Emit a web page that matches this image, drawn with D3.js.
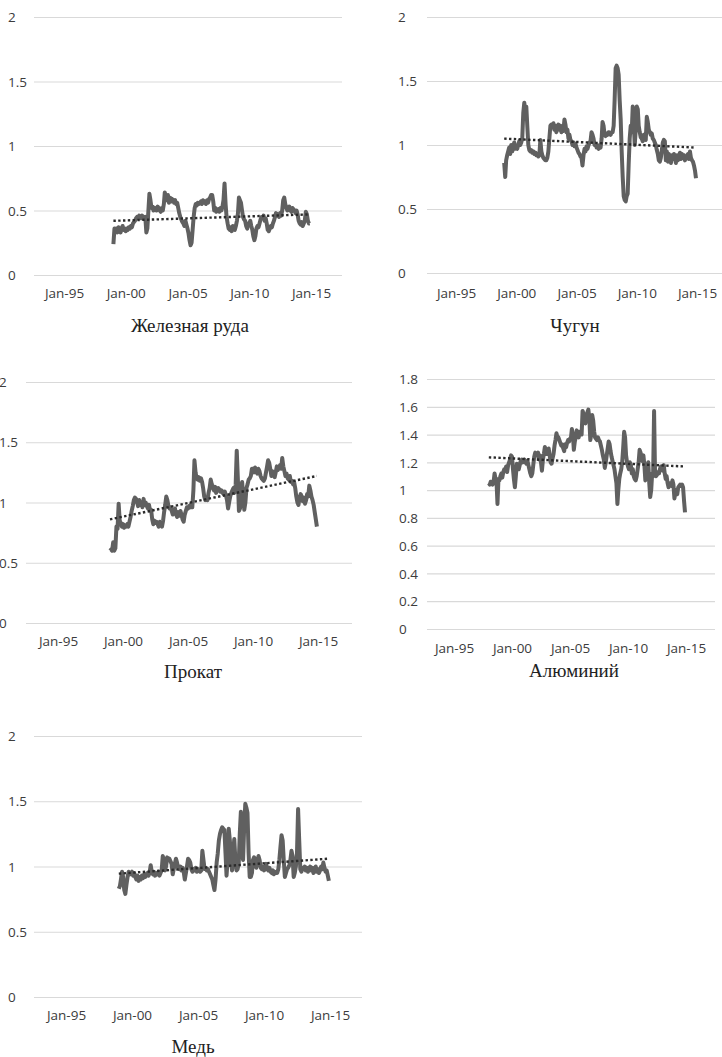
<!DOCTYPE html>
<html>
<head>
<meta charset="utf-8">
<script src="https://cdnjs.cloudflare.com/ajax/libs/d3/7.8.5/d3.min.js"></script>
<style>
  body { margin: 0; background: #fff; }
  svg { display: block; }
  .tick line { stroke: #d9d9d9; stroke-width: 1.2; }
  .tick text { font-family: "Open Sans", sans-serif; font-size: 13.5px; fill: #3c3c3c; }
  .title { font-family: "Liberation Serif", serif; font-size: 19px; fill: #222; }
</style>
</head>
<body>
<svg id="chart" width="722" height="1057"></svg>
<script>
// titles of the five panels
const titles = ["Железная руда", "Чугун", "Прокат", "Алюминий", "Медь"];

// x axis tick years (labels Jan-95 ... Jan-15)
const tickYears = [1995, 2000, 2005, 2010, 2015];

// y tick values
const ticksTo2 = [0, 0.5, 1, 1.5, 2];
const ticksTo18 = [0, 0.2, 0.4, 0.6, 0.8, 1, 1.2, 1.4, 1.6, 1.8];

// first month of each series [year, month index]
const starts = [[1999, 0], [1999, 0], [1999, 0], [1998, 0], [1999, 0]];

// linear trend, value at first and last month
const trends = [[0.42, 0.47], [1.05, 0.98], [0.86, 1.22], [1.236, 1.17], [0.945, 1.06]];

// monthly values, one row per year
const ironOre = [
  0.24, 0.36, 0.34, 0.36, 0.33, 0.37, 0.35, 0.33, 0.36, 0.38, 0.35, 0.36,
  0.34, 0.36, 0.35, 0.37, 0.36, 0.38, 0.37, 0.40, 0.41, 0.42, 0.44, 0.45,
  0.44, 0.46, 0.45, 0.44, 0.46, 0.45, 0.44, 0.45, 0.33, 0.36, 0.50, 0.63,
  0.58, 0.52, 0.53, 0.50, 0.52, 0.51, 0.50, 0.53, 0.52, 0.50, 0.49, 0.52,
  0.50, 0.55, 0.64, 0.60, 0.58, 0.62, 0.56, 0.60, 0.57, 0.59, 0.58, 0.56,
  0.58, 0.55, 0.56, 0.52, 0.48, 0.45, 0.43, 0.41, 0.40, 0.38, 0.42, 0.39,
  0.36, 0.32, 0.27, 0.23, 0.25, 0.35, 0.45, 0.52, 0.55, 0.54, 0.56, 0.55,
  0.56, 0.57, 0.55, 0.58, 0.56, 0.57, 0.55, 0.58, 0.56, 0.59, 0.60, 0.62,
  0.62, 0.57, 0.50, 0.52, 0.49, 0.50, 0.51, 0.49, 0.52, 0.50, 0.53, 0.58,
  0.71, 0.55, 0.45, 0.40, 0.36, 0.35, 0.37, 0.34, 0.38, 0.36, 0.35, 0.38,
  0.42, 0.48, 0.60, 0.58, 0.56, 0.50, 0.45, 0.43, 0.42, 0.38, 0.36, 0.40,
  0.40, 0.42, 0.38, 0.35, 0.30, 0.27, 0.30, 0.36, 0.38, 0.37, 0.40, 0.43,
  0.45, 0.44, 0.46, 0.42, 0.44, 0.40, 0.35, 0.34, 0.36, 0.38, 0.37, 0.40,
  0.42, 0.45, 0.48, 0.46, 0.47, 0.45, 0.48, 0.46, 0.50, 0.58, 0.60, 0.55,
  0.52, 0.50, 0.51, 0.53, 0.50, 0.49, 0.52, 0.51, 0.50, 0.48, 0.50, 0.47,
  0.42, 0.40, 0.39, 0.41, 0.38, 0.40, 0.42, 0.49, 0.47, 0.42, 0.40, 0.40
];

const pigIron = [
  0.86, 0.75, 0.88, 0.92, 0.95, 0.98, 0.93, 1.00, 0.95, 0.98, 1.02, 0.97,
  0.99, 0.97, 1.00, 1.03, 1.00, 1.02, 1.05, 1.25, 1.33, 1.25, 1.30, 1.15,
  1.00, 0.96, 0.95, 0.96, 0.94, 0.95, 0.93, 0.94, 0.92, 0.93, 0.91, 0.92,
  1.04, 0.95, 0.92, 0.90, 0.89, 0.88, 0.88, 0.90, 0.95, 1.05, 1.15, 1.16,
  1.14, 1.17, 1.12, 1.15, 1.10, 1.14, 1.16, 1.12, 1.15, 1.10, 1.13, 1.11,
  1.20, 1.16, 1.10, 1.12, 1.05, 1.08, 1.04, 1.03, 1.00, 1.02, 0.99, 1.01,
  0.98, 0.96, 0.94, 0.93, 0.91, 0.90, 0.84, 0.92, 0.97, 0.95, 0.99, 0.97,
  1.00, 1.02, 1.03, 1.10, 1.08, 1.05, 1.00, 1.01, 0.98, 0.99, 0.97, 1.00,
  0.98, 1.05, 1.18, 1.15, 1.08, 1.07, 1.09, 1.08, 1.10, 1.09, 1.08, 1.10,
  1.10, 1.15, 1.35, 1.60, 1.62, 1.60, 1.55, 1.35, 1.20, 0.95, 0.75, 0.60,
  0.57, 0.56, 0.60, 0.62, 0.85, 1.05, 1.15, 1.10, 1.30, 1.18, 1.00, 1.12,
  1.30, 1.28, 1.15, 1.10, 1.06, 1.05, 1.03, 1.08, 1.05, 1.04, 1.22, 1.18,
  1.12, 1.10, 1.08, 1.09, 1.05, 1.04, 1.02, 1.00, 0.96, 0.93, 0.88, 0.87,
  0.90, 0.96, 1.02, 1.04, 1.03, 0.88, 0.95, 0.87, 0.93, 0.90, 0.86, 0.92,
  0.89, 0.93, 0.90, 0.86, 0.92, 0.88, 0.91, 0.94, 0.89, 0.93, 0.90, 0.92,
  0.88, 0.91, 0.90, 0.93, 0.89, 0.95, 0.90, 0.88, 0.87, 0.84, 0.80, 0.74
];

const rolledSteel = [
  0.60, 0.61, 0.60, 0.67, 0.60, 0.62, 0.80, 0.78, 0.99, 0.85, 0.83, 0.80,
  0.82, 0.79, 0.81, 0.80, 0.82, 0.80, 0.84, 0.88, 0.93, 0.97, 1.02, 1.04,
  1.03, 1.00, 0.97, 1.02, 0.98, 1.00, 0.96, 1.03, 0.98, 1.00, 0.97, 0.95,
  0.98, 0.93, 0.94, 0.86, 0.82, 0.85, 0.83, 0.84, 0.82, 0.80, 0.84, 0.83,
  0.80, 0.85, 0.92, 0.98, 1.05, 1.02, 0.97, 0.95, 0.96, 0.93, 0.90, 0.92,
  0.95, 0.90, 0.88, 0.92, 0.89, 0.93, 0.90, 0.86, 0.84, 0.90, 0.93, 0.96,
  0.95, 0.97, 0.96, 0.99, 0.96, 1.10, 1.35, 1.25, 1.20, 1.19, 1.21, 1.18,
  1.20, 1.17, 1.12, 1.05, 1.02, 1.04, 1.02, 1.08, 1.12, 1.19, 1.15, 1.12,
  1.10, 1.13, 1.08, 1.10, 1.12, 1.11, 1.09, 1.10, 1.08, 1.07, 1.09, 1.06,
  1.02, 0.95, 1.00, 1.05, 1.08, 1.10, 1.12, 1.08, 1.15, 1.43, 1.20, 0.93,
  0.95, 1.10, 1.17, 1.05, 0.94, 1.00, 1.12, 1.15, 1.19, 1.20, 1.22, 1.28,
  1.28, 1.25, 1.29, 1.27, 1.24, 1.28, 1.26, 1.22, 1.20, 1.19, 1.18, 1.20,
  1.25, 1.30, 1.35, 1.33, 1.28, 1.22, 1.26, 1.24, 1.21, 1.25, 1.30, 1.27,
  1.29, 1.31, 1.28, 1.37, 1.30, 1.26, 1.22, 1.24, 1.20, 1.19, 1.22, 1.17,
  1.18, 1.15, 1.17, 1.12, 1.05, 1.00, 0.98, 1.04, 1.07, 1.05, 1.01, 1.04,
  0.99, 1.02, 1.07, 1.05, 1.14, 1.10, 1.05, 1.02, 0.98, 0.92, 0.86, 0.80
];

const aluminium = [
  1.05, 1.04, 1.06, 1.05, 1.04, 1.06, 1.12, 1.08, 1.06, 0.90, 1.08, 1.07,
  1.10, 1.12, 1.09, 1.13, 1.15, 1.14, 1.17, 1.13, 1.18, 1.20, 1.22, 1.25,
  1.24, 1.15, 1.08, 1.02, 1.10, 1.19, 1.17, 1.15, 1.18, 1.21, 1.22, 1.20,
  1.21, 1.22, 1.20, 1.19, 1.21, 1.18, 1.15, 1.12, 1.10, 1.12, 1.18, 1.24,
  1.27, 1.25, 1.26, 1.27, 1.22, 1.25, 1.20, 1.14, 1.22, 1.26, 1.31, 1.28,
  1.26, 1.27, 1.30, 1.25, 1.20, 1.19, 1.23, 1.26, 1.32, 1.36, 1.41, 1.38,
  1.38, 1.36, 1.34, 1.32, 1.33, 1.30, 1.28, 1.33, 1.31, 1.34, 1.36, 1.35,
  1.37, 1.38, 1.44, 1.40, 1.29, 1.35, 1.38, 1.43, 1.40, 1.38, 1.42, 1.40,
  1.40, 1.57, 1.55, 1.50, 1.48, 1.52, 1.56, 1.58, 1.52, 1.36, 1.40, 1.54,
  1.50, 1.42, 1.38, 1.37, 1.36, 1.38, 1.36, 1.35, 1.32, 1.29, 1.25, 1.22,
  1.16, 1.20, 1.25, 1.30, 1.35, 1.33, 1.28, 1.24, 1.21, 1.18, 1.15, 1.10,
  1.05, 0.90, 1.00, 1.08, 1.12, 1.15, 1.20, 1.30, 1.42, 1.38, 1.25, 1.20,
  1.17, 1.15, 1.20, 1.18, 1.12, 1.15, 1.10, 1.08, 1.07, 1.10, 1.15, 1.20,
  1.29, 1.27, 1.24, 1.21, 1.25, 1.18, 1.07, 1.10, 1.15, 1.20, 1.05, 0.95,
  1.00, 1.12, 1.10, 1.57, 1.12, 1.10, 1.11, 1.13, 1.12, 1.15, 1.17, 1.16,
  1.14, 1.18, 1.12, 1.08, 1.10, 1.05, 1.02, 1.04, 1.05, 1.03, 1.07, 1.04,
  0.94, 0.98, 1.00, 0.97, 1.02, 1.03, 1.04, 1.03, 1.04, 1.02, 0.92, 0.84
];

const copper = [
  0.83, 0.85, 0.90, 0.96, 0.92, 0.82, 0.79, 0.86, 0.92, 0.96, 0.94, 0.95,
  0.96, 0.93, 0.95, 0.92, 0.90, 0.93, 0.89, 0.92, 0.90, 0.93, 0.91, 0.94,
  0.92, 0.94, 0.95, 0.93, 0.95, 1.01, 0.96, 0.94, 0.96, 0.93, 0.95, 0.94,
  0.96, 0.93, 0.95, 0.97, 1.08, 1.05, 0.97, 1.00, 1.07, 1.05, 1.06, 1.04,
  1.02, 0.94, 0.98, 1.02, 1.06, 1.03, 0.99, 0.98, 1.00, 0.97, 0.99, 0.96,
  0.90, 0.95, 1.00, 1.06, 1.05, 1.03, 0.98, 0.96, 0.98, 0.97, 0.99, 0.96,
  0.98, 0.97, 0.96, 0.97, 1.12, 1.05, 0.98, 0.99, 0.97, 0.98, 0.96, 0.94,
  0.92, 0.90, 0.86, 0.82, 0.90, 1.03, 1.10, 1.20, 1.25, 1.28, 1.30, 1.29,
  1.28, 1.10, 0.93, 1.05, 1.29, 1.20, 1.05, 0.97, 1.10, 1.21, 1.05, 0.97,
  0.98, 1.02, 1.25, 1.42, 1.10, 1.05, 1.30, 1.48, 1.45, 1.41, 1.10, 0.92,
  0.92, 0.95, 1.05, 1.07, 1.02, 0.99, 1.04, 1.08, 1.05, 0.99, 0.98, 1.00,
  0.97, 0.99, 1.02, 0.98, 0.97, 0.99, 0.96, 0.95, 0.97, 0.94, 0.96, 0.95,
  0.95, 0.98, 1.05, 1.15, 1.24, 1.20, 1.05, 0.92, 0.95, 0.98, 0.99, 1.01,
  1.05, 1.12, 1.08, 0.92, 0.95, 1.00, 1.10, 1.44, 1.20, 0.98, 0.96, 0.99,
  0.98, 1.00, 0.97, 0.99, 0.96, 0.98, 1.00, 0.97, 0.99, 0.95, 0.97, 1.00,
  0.96, 0.98, 0.95, 0.97, 1.00, 0.98, 1.03, 0.99, 0.96, 0.97, 0.93, 0.89
];

const seriesList = [ironOre, pigIron, rolledSteel, aluminium, copper];

// panel layout (pixels)
const layout = [
  {left: 34,  right: 342, top: 17,  bottom: 275, x95: 64,  x15: 311, yLab: 8,   xLabY: 293,  titleX: 190, titleY: 332,  yTicks: ticksTo2},
  {left: 427, right: 722, top: 17,  bottom: 273, x95: 456, x15: 697, yLab: 398, xLabY: 293,  titleX: 575, titleY: 332,  yTicks: ticksTo2},
  {left: 26,  right: 352, top: 382, bottom: 623, x95: 58,  x15: 318, yLab: -1,  xLabY: 641,  titleX: 193, titleY: 678,  yTicks: ticksTo2},
  {left: 427, right: 715, top: 379, bottom: 629, x95: 454, x15: 686, yLab: 399, xLabY: 648,  titleX: 574, titleY: 677,  yTicks: ticksTo18},
  {left: 34,  right: 362, top: 736, bottom: 997, x95: 66,  x15: 330, yLab: 8,   xLabY: 1015, titleX: 193, titleY: 1053, yTicks: ticksTo2}
];

const svg = d3.select("#chart");

layout.forEach((p, k) => {
  const values = seriesList[k];
  const s = starts[k];
  const data = values.map((v, i) => ({date: new Date(s[0], s[1] + i, 1), value: v}));

  const x = d3.scaleTime()
    .domain([new Date(tickYears[0], 0, 1), new Date(tickYears[tickYears.length - 1], 0, 1)])
    .range([p.x95, p.x15]);

  const y = d3.scaleLinear()
    .domain([0, d3.max(p.yTicks)])
    .range([p.bottom, p.top]);

  const g = svg.append("g");

  // y axis with gridlines
  const yAxis = g.append("g")
    .attr("transform", "translate(" + p.left + ",0)")
    .call(d3.axisLeft(y).tickValues(p.yTicks).tickSize(-(p.right - p.left)).tickPadding(0).tickFormat(d => String(d)));
  yAxis.select(".domain").remove();
  yAxis.selectAll("text")
    .attr("x", p.yLab - p.left)
    .attr("dy", "0.35em")
    .style("text-anchor", "start");

  // x axis labels
  const xAxis = g.append("g")
    .attr("transform", "translate(0," + p.xLabY + ")")
    .call(d3.axisBottom(x).tickValues(tickYears.map(yr => new Date(yr, 0, 1))).tickSize(0).tickFormat(d3.timeFormat("Jan-%y")));
  xAxis.select(".domain").remove();
  xAxis.selectAll("text").attr("y", 0).attr("dy", "0.35em");

  // series line
  const line = d3.line().x(d => x(d.date)).y(d => y(d.value));
  g.append("path")
    .datum(data)
    .attr("d", line)
    .attr("fill", "none")
    .attr("stroke", "#606060")
    .attr("stroke-width", 4)
    .attr("stroke-linejoin", "round");

  // trend line (dotted)
  const t = trends[k];
  const trendData = [
    {date: data[0].date, value: t[0]},
    {date: data[data.length - 1].date, value: t[1]}
  ];
  g.append("path")
    .datum(trendData)
    .attr("d", line)
    .attr("fill", "none")
    .attr("stroke", "#2b2b2b")
    .attr("stroke-width", 2.4)
    .attr("stroke-dasharray", "2.4,2.4");

  // title
  g.append("text")
    .attr("class", "title")
    .attr("x", p.titleX)
    .attr("y", p.titleY)
    .attr("text-anchor", "middle")
    .text(titles[k]);
});
</script>
</body>
</html>
